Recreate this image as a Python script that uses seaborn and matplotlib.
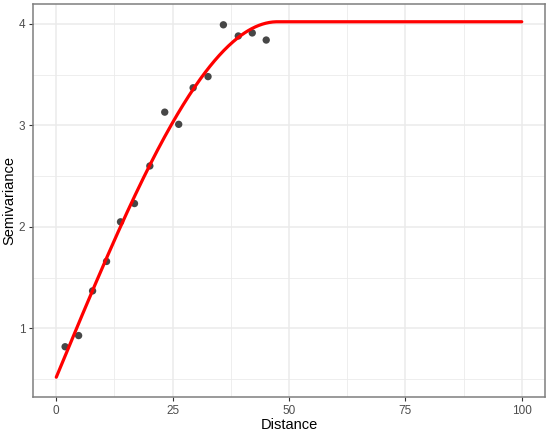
import seaborn as sns
import matplotlib.pyplot as plt
import matplotlib.ticker as mticker
import pandas as pd
import numpy as np

distancia = [1.9, 4.8, 7.8, 10.8, 13.8, 16.8, 20.1, 23.3, 26.3, 29.4, 32.6, 35.9, 39.1, 42.1, 45.1]
semivarianza = [0.82, 0.93, 1.37, 1.66, 2.05, 2.23, 2.60, 3.13, 3.01, 3.37, 3.48, 3.99, 3.88, 3.91, 3.84]

# parametros del modelo esferico ajustado
nugget = 0.52
sill = 4.02
rango = 47.5

datos = pd.DataFrame({"dist": distancia, "gamma": semivarianza})

h = np.linspace(0, 100, 401)
hr = np.minimum(h / rango, 1.0)
modelo = pd.DataFrame({"dist": h, "gamma": nugget + (sill - nugget) * (1.5 * hr - 0.5 * hr ** 3)})

sns.set_style("white")
plt.rcParams["font.family"] = ["Liberation Sans", "DejaVu Sans"]

fig = plt.figure(figsize=(5.5, 4.32), dpi=100)
ax = fig.add_axes([0.06, 0.081, 0.931, 0.9086])

sns.scatterplot(data=datos, x="dist", y="gamma", ax=ax, color="#333333", s=28,
                edgecolor="none", alpha=0.9, zorder=3)
sns.lineplot(data=modelo, x="dist", y="gamma", ax=ax, color="red", linewidth=2.3, zorder=4)

ax.set_xlim(-5, 105)
ax.set_ylim(0.325, 4.19)
ax.xaxis.set_major_locator(mticker.FixedLocator([0, 25, 50, 75, 100]))
ax.xaxis.set_minor_locator(mticker.FixedLocator([12.5, 37.5, 62.5, 87.5]))
ax.yaxis.set_major_locator(mticker.FixedLocator([1, 2, 3, 4]))
ax.yaxis.set_minor_locator(mticker.FixedLocator([0.5, 1.5, 2.5, 3.5]))
ax.grid(which="major", color="#EBEBEB", linewidth=1.1)
ax.grid(which="minor", color="#EBEBEB", linewidth=0.6)
ax.set_axisbelow(True)

for s in ax.spines.values():
    s.set_color("#7F7F7F")
    s.set_linewidth(1.1)

ax.tick_params(axis="both", which="major", length=3, width=0.8, color="#333333",
               labelsize=8.5, labelcolor="#4D4D4D", pad=2.5, bottom=True, left=True)
ax.tick_params(which="minor", length=0)
ax.set_xlabel("Distance", fontsize=10.5, color="black", labelpad=1)
ax.set_ylabel("Semivariance", fontsize=10.5, color="black", labelpad=2)

fig.savefig("out.png", dpi=100)
